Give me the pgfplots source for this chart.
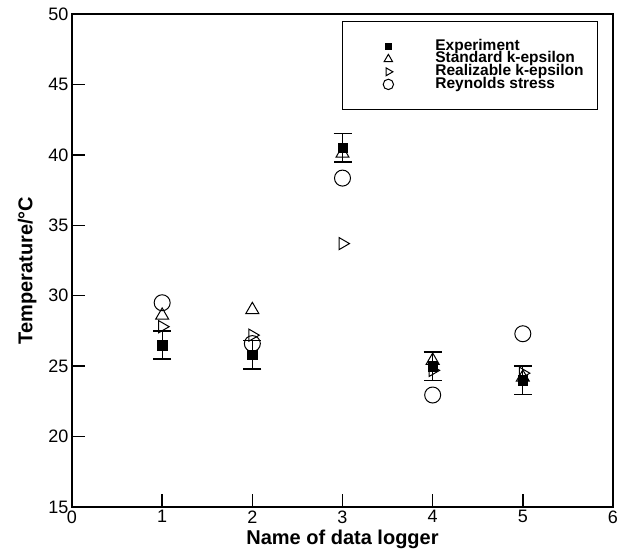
\documentclass[border=0pt]{standalone}
\usepackage{fontspec}
\setmainfont{Liberation Sans}
\usepackage{pgfplots}
\pgfplotsset{compat=1.18}

% marks only, with a wide legend image so the text sits where it does in the original
\pgfplotsset{
  mymarks/.style={only marks,
    legend image code/.code={\path[draw=none,fill=none] (0pt,-2pt) rectangle (79pt,2pt);
      \draw[mark repeat=2,mark phase=2,##1]
      plot coordinates {(0pt,0pt)(34pt,0pt)(68pt,0pt)};}},
}

\begin{document}
\begin{tikzpicture}
\useasboundingbox (0,0) rectangle (619pt,557pt);
\begin{axis}[
    at={(72pt,50pt)}, anchor=south west,
    scale only axis, width=541pt, height=493pt,
    xmin=0, xmax=6, ymin=15, ymax=50,
    xtick={0,...,6}, ytick={15,20,...,50},
    tick align=inside, xtick pos=bottom, ytick pos=left,
    major tick length=13pt,
    every tick/.style={black, line width=1.5pt},
    axis line style={line width=1.6pt},
    tick label style={font=\fontsize{18}{18}\selectfont},
    /pgf/number format/assume math mode=true,
    xlabel={\bfseries Name of data logger},
    ylabel={\bfseries Temperature/°C},
    label style={font=\fontsize{20}{20}\selectfont},
    ylabel style={yshift=5pt, xshift=-10pt},
    legend style={at={(0.499,0.986)}, anchor=north west,
        draw=black, line width=0.8pt, inner xsep=12pt, inner ysep=19pt,
        font=\fontsize{15.5}{15.5}\selectfont\bfseries,
        cells={anchor=west},
        nodes={text height=10pt, text depth=2.6pt, inner ysep=0pt}},
    legend image post style={/tikz/every mark/.append style={scale=0.65}},
]
\addplot[mymarks, mark=square*, mark size=4.7pt, black,
    error bars/.cd, y dir=both, y explicit,
    error mark=-, error bar style={line width=1.3pt},
    error mark options={line width=1.3pt, mark size=9pt, rotate=90}]
coordinates {
    (1,26.5) +- (0,1)
    (2,25.8) +- (0,1)
    (3,40.5) +- (0,1)
    (4,25.0) +- (0,1)
    (5,24.0) +- (0,1)
};
\addlegendentry{Experiment}
\addplot[mymarks, mark=triangle, mark size=7.5pt, black, mark options={line width=1pt}]
coordinates {(1,28.6)(2,29.0)(3,40.1)(4,25.4)(5,24.2)};
\addlegendentry{Standard k-epsilon}
\addplot[mymarks, mark=triangle, mark size=7pt, black, mark options={rotate=-90, line width=1pt}]
coordinates {(1,27.8)(2,27.2)(3,33.7)(4,24.7)(5,24.5)};
\addlegendentry{Realizable k-epsilon}
\addplot[mymarks, mark=o, mark size=8pt, black, mark options={line width=1pt}]
coordinates {(1,29.5)(2,26.6)(3,38.35)(4,22.95)(5,27.3)};
\addlegendentry{Reynolds stress}
\end{axis}
\end{tikzpicture}
\end{document}
